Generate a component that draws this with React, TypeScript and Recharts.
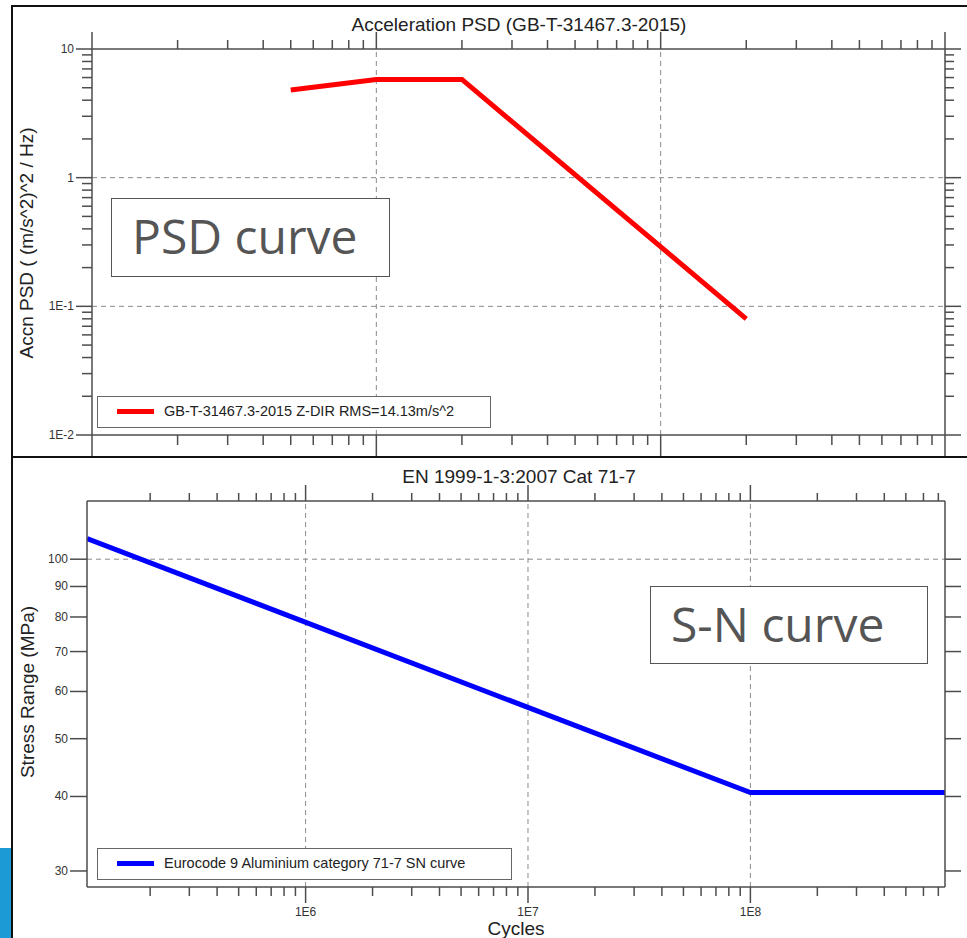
import React from "react";
import { LineChart, Line, XAxis, YAxis, ReferenceLine } from "recharts";

// PSD curve (top)
const psdFreq = [5, 10, 20, 200];
const psdValue = [4.8, 5.8, 5.8, 0.08];
const psdXMajor = [1, 10, 100, 1000];
const psdYMajor = [0.01, 0.1, 1, 10];
const psdXGrid = [10, 100];
const psdYGrid = [0.1, 1];
const psdName = "GB-T-31467.3-2015 Z-DIR RMS=14.13m/s^2";

// S-N curve (bottom)
const snCycles = [1.04e5, 1e8, 7.5e8];
const snStress = [108.3, 40.6, 40.6];
const snXMajor = [1e6, 1e7, 1e8];
const snXLabels = ["1E6", "1E7", "1E8"];
const snYTicks = [30, 40, 50, 60, 70, 80, 90, 100];
const snXGrid = [1e6, 1e7, 1e8];
const snYGrid = [100];
const snName = "Eurocode 9 Aluminium category 71-7 SN curve";

const FONT = "'Liberation Sans', Arial, sans-serif";
const AXIS = "#4d4d4d";
const GRID = "#8a8a8a";
const PLOT_TOP = 42; // top of plot area inside each chart

// log ticks: 1..9 times each decade start, limited to [lo, hi]
function logTicks(decades: number[], lo: number, hi: number) {
  const out: number[] = [];
  decades.forEach((d) => {
    for (let k = 1; k <= 9; k++) {
      const v = d * k;
      if (v >= lo * 0.9999 && v <= hi * 1.0001) out.push(v);
    }
  });
  return out;
}

const psdXTicks = logTicks([1, 10, 100, 1000], 1, 1000);
const psdYTicks = logTicks([0.01, 0.1, 1, 10], 0.01, 10);
const snXTicks = logTicks([1e5, 1e6, 1e7, 1e8], 2e5, 7.5e8);

const psdData = psdFreq.map((f, i) => ({ f, v: psdValue[i] }));
const snData = snCycles.map((n, i) => ({ n, s: snStress[i] }));

type Side = "bottom" | "left" | "right";
type TopMarks = { major: number; minor: number };

function isIn(list: number[], v: number) {
  return list.some((m) => Math.abs(m - v) / m < 1e-6);
}

function makeTick(
  side: Side,
  major: number[],
  majorLen: number,
  minorLen: number,
  fmt?: (v: number) => string,
  top?: TopMarks
) {
  return (props: any) => {
    const { x, y, payload } = props;
    const v = payload.value as number;
    const big = isIn(major, v);
    const len = big ? majorLen : minorLen;
    let x2 = x;
    let y2 = y;
    if (side === "bottom") y2 = y + len;
    if (side === "left") x2 = x - len;
    if (side === "right") x2 = x + len;
    let label = null;
    if (big && fmt) {
      if (side === "left") {
        label = (
          <text x={x - len - 2} y={y + 4} textAnchor="end" fontSize={12} fill="#333" fontFamily={FONT}>
            {fmt(v)}
          </text>
        );
      } else if (side === "bottom") {
        label = (
          <text x={x} y={y + len + 13} textAnchor="middle" fontSize={12} fill="#333" fontFamily={FONT}>
            {fmt(v)}
          </text>
        );
      }
    }
    // marks on the opposite (top) edge share the same x scale
    const topLen = top ? (big ? top.major : top.minor) : 0;
    return (
      <g>
        <line x1={x} y1={y} x2={x2} y2={y2} stroke={AXIS} strokeWidth={1.5} />
        {top && <line x1={x} y1={PLOT_TOP} x2={x} y2={PLOT_TOP - topLen} stroke={AXIS} strokeWidth={1.5} />}
        {label}
      </g>
    );
  };
}

const psdYFmt = (v: number) => (v >= 1 ? String(v) : `1E${Math.round(Math.log10(v))}`);
const psdXFmt = (v: number) => String(v);
const snXFmt = (v: number) => snXLabels[snXMajor.findIndex((m) => Math.abs(m - v) / m < 1e-6)];
const snYFmt = (v: number) => String(v);

const axisLine = { stroke: AXIS, strokeWidth: 1.5 };

function LegendBox({ left, top, width, color, text }: any) {
  return (
    <div
      style={{
        position: "absolute",
        left,
        top,
        width,
        height: 32,
        border: "1.5px solid #666",
        background: "#fff",
        boxSizing: "border-box",
        fontFamily: FONT,
        fontSize: 14.5,
        color: "#222",
      }}
    >
      <div style={{ position: "absolute", left: 19, top: 12, width: 37, height: 5, background: color }} />
      <div style={{ position: "absolute", left: 66, top: 6, whiteSpace: "nowrap" }}>{text}</div>
    </div>
  );
}

function NoteBox({ left, top, width, height, text }: any) {
  return (
    <div
      style={{
        position: "absolute",
        left,
        top,
        width,
        height,
        border: "1.5px solid #555",
        boxSizing: "border-box",
        background: "#fff",
        fontFamily: "'Open Sans', sans-serif",
        fontSize: 48,
        color: "#555",
        lineHeight: `${height - 5}px`,
        paddingLeft: 20,
        whiteSpace: "nowrap",
      }}
    >
      {text}
    </div>
  );
}

const titleStyle: React.CSSProperties = {
  position: "absolute",
  left: 0,
  width: 1038,
  textAlign: "center",
  fontSize: 19,
  color: "#222",
  whiteSpace: "nowrap",
};

const yTitleStyle: React.CSSProperties = {
  position: "absolute",
  transform: "translate(-50%, -50%) rotate(-90deg)",
  fontSize: 19,
  color: "#222",
  whiteSpace: "nowrap",
};

export default function App() {
  return (
    <div
      style={{
        position: "absolute",
        left: 0,
        top: 0,
        width: 967,
        height: 938,
        background: "#fff",
        overflow: "hidden",
        fontFamily: FONT,
      }}
    >
      {/* top chart: acceleration PSD */}
      <div style={{ position: "absolute", left: 11, top: 7, width: 956, height: 452, overflow: "hidden" }}>
        <LineChart width={956} height={470} data={psdData} margin={{ top: 0, right: 0, left: 0, bottom: 0 }}>
          <XAxis
            xAxisId="b"
            dataKey="f"
            type="number"
            scale="log"
            domain={[1, 1000]}
            allowDataOverflow
            ticks={psdXTicks}
            interval={0}
            height={42}
            tickSize={0}
            tickMargin={0}
            axisLine={axisLine}
            tick={makeTick("bottom", psdXMajor, 22, 10, psdXFmt, { major: 17, minor: 9 })}
          />
          <XAxis
            xAxisId="t"
            dataKey="f"
            orientation="top"
            type="number"
            scale="log"
            domain={[1, 1000]}
            allowDataOverflow
            height={PLOT_TOP}
            tick={false}
            tickLine={false}
            axisLine={axisLine}
          />
          <YAxis
            yAxisId="l"
            type="number"
            scale="log"
            domain={[0.01, 10]}
            allowDataOverflow
            ticks={psdYTicks}
            interval={0}
            width={81}
            tickSize={0}
            tickMargin={0}
            axisLine={axisLine}
            tick={makeTick("left", psdYMajor, 16, 10, psdYFmt)}
          />
          <YAxis
            yAxisId="r"
            orientation="right"
            type="number"
            scale="log"
            domain={[0.01, 10]}
            allowDataOverflow
            ticks={psdYTicks}
            interval={0}
            width={22}
            tickSize={0}
            tickMargin={0}
            axisLine={axisLine}
            tick={makeTick("right", psdYMajor, 16, 9)}
          />
          {psdXGrid.map((g) => (
            <ReferenceLine key={"x" + g} xAxisId="b" yAxisId="l" x={g} stroke={GRID} strokeDasharray="5 4" />
          ))}
          {psdYGrid.map((g) => (
            <ReferenceLine key={"y" + g} xAxisId="b" yAxisId="l" y={g} stroke={GRID} strokeDasharray="5 4" />
          ))}
          <Line
            xAxisId="b"
            yAxisId="l"
            dataKey="v"
            name={psdName}
            stroke="#ff0000"
            strokeWidth={5}
            dot={false}
            isAnimationActive={false}
          />
        </LineChart>
      </div>

      {/* bottom chart: S-N curve */}
      <div style={{ position: "absolute", left: 11, top: 459, width: 956, height: 479, background: "#fff" }}>
        <LineChart width={956} height={479} data={snData} margin={{ top: 0, right: 0, left: 0, bottom: 0 }}>
          <XAxis
            xAxisId="b"
            dataKey="n"
            type="number"
            scale="log"
            domain={[1.04e5, 7.5e8]}
            allowDataOverflow
            ticks={snXTicks}
            interval={0}
            height={51}
            tickSize={0}
            tickMargin={0}
            axisLine={axisLine}
            tick={makeTick("bottom", snXMajor, 16, 9, snXFmt, { major: 16, minor: 8 })}
          />
          <XAxis
            xAxisId="t"
            dataKey="n"
            orientation="top"
            type="number"
            scale="log"
            domain={[1.04e5, 7.5e8]}
            allowDataOverflow
            height={PLOT_TOP}
            tick={false}
            tickLine={false}
            axisLine={axisLine}
          />
          <YAxis
            yAxisId="l"
            type="number"
            scale="log"
            domain={[28.2, 125.2]}
            allowDataOverflow
            ticks={snYTicks}
            interval={0}
            width={76}
            tickSize={0}
            tickMargin={0}
            axisLine={axisLine}
            tick={makeTick("left", snYTicks, 17, 17, snYFmt)}
          />
          <YAxis
            yAxisId="r"
            orientation="right"
            type="number"
            scale="log"
            domain={[28.2, 125.2]}
            allowDataOverflow
            ticks={snYTicks}
            interval={0}
            width={22}
            tickSize={0}
            tickMargin={0}
            axisLine={axisLine}
            tick={makeTick("right", snYTicks, 16, 16)}
          />
          {snXGrid.map((g) => (
            <ReferenceLine key={"x" + g} xAxisId="b" yAxisId="l" x={g} stroke={GRID} strokeDasharray="5 4" />
          ))}
          {snYGrid.map((g) => (
            <ReferenceLine key={"y" + g} xAxisId="b" yAxisId="l" y={g} stroke={GRID} strokeDasharray="5 4" />
          ))}
          <Line
            xAxisId="b"
            yAxisId="l"
            dataKey="s"
            name={snName}
            stroke="#0000ff"
            strokeWidth={5}
            dot={false}
            isAnimationActive={false}
          />
        </LineChart>
      </div>

      {/* titles */}
      <div style={{ ...titleStyle, top: 14 }}>Acceleration PSD (GB-T-31467.3-2015)</div>
      <div style={{ ...titleStyle, top: 466 }}>EN 1999-1-3:2007 Cat 71-7</div>
      <div style={{ ...titleStyle, width: 1032, top: 918 }}>Cycles</div>
      <div style={{ ...yTitleStyle, left: 27, top: 243 }}>Accn PSD ( (m/s^2)^2 / Hz)</div>
      <div style={{ ...yTitleStyle, left: 28, top: 692 }}>Stress Range (MPa)</div>

      {/* legends and notes */}
      <LegendBox left={97} top={396} width={394} color="#ff0000" text={psdName} />
      <LegendBox left={97} top={848} width={415} color="#0000ff" text={snName} />
      <NoteBox left={111} top={198} width={279} height={79} text="PSD curve" />
      <NoteBox left={650} top={586} width={278} height={78} text="S-N curve" />

      {/* frame */}
      <div style={{ position: "absolute", left: 11, top: 5, width: 956, height: 2, background: "#111" }} />
      <div style={{ position: "absolute", left: 11, top: 5, width: 2, height: 933, background: "#111" }} />
      <div style={{ position: "absolute", left: 11, top: 456, width: 956, height: 2, background: "#111" }} />
      <div style={{ position: "absolute", left: 0, top: 848, width: 11, height: 90, background: "#1b9ad6" }} />
    </div>
  );
}
